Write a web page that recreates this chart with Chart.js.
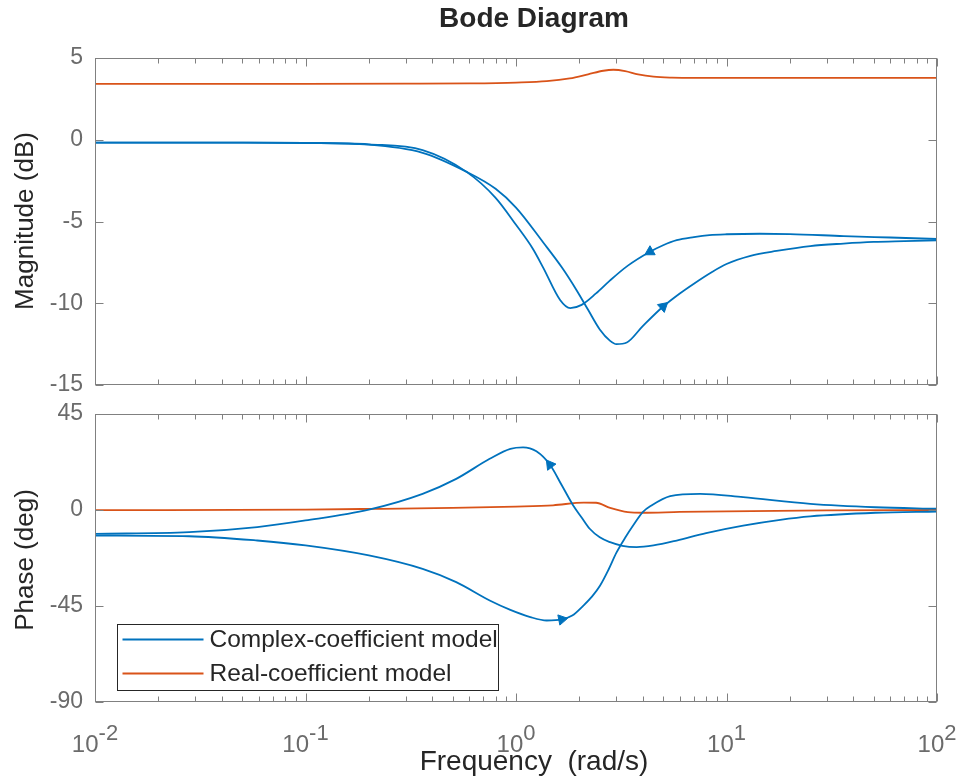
<!DOCTYPE html>
<html>
<head>
<meta charset="utf-8">
<script src="https://cdn.jsdelivr.net/npm/chart.js@4.4.1/dist/chart.umd.min.js"></script>
<style>
  html, body { margin: 0; padding: 0; background: #ffffff; }
  #wrap { position: relative; width: 962px; height: 778px; overflow: hidden; }
  canvas { position: absolute; left: 0; }
  #top { top: 0; }
  #bot { top: 400px; }
</style>
</head>
<body>
<div id="wrap">
  <canvas id="top" width="962" height="400"></canvas>
  <canvas id="bot" width="962" height="378"></canvas>
</div>
<script>
// ---------------- DATA ----------------
// Frequencies in rad/s
const titleText = 'Bode Diagram';
const xAxisTitle = 'Frequency  (rad/s)';
const magAxisTitle = 'Magnitude (dB)';
const phaseAxisTitle = 'Phase (deg)';
const seriesNames = ['Complex-coefficient model', 'Real-coefficient model'];

const xTickExponents = [-2, -1, 0, 1, 2];
const magTicks = [5, 0, -5, -10, -15];
const phaseTicks = [45, 0, -45, -90];

// Real-coefficient model
const realMagFreq = [0.01, 0.1, 0.3, 0.6, 1.0, 1.4, 1.8, 2.2, 2.6, 2.9, 3.3, 3.8, 4.5, 5.5, 7, 10, 30, 100];
const realMag     = [3.42, 3.42, 3.43, 3.45, 3.5, 3.58, 3.75, 4.0, 4.22, 4.28, 4.2, 4.0, 3.86, 3.8, 3.78, 3.78, 3.78, 3.78];
const realPhFreq  = [0.01, 0.1, 0.2, 0.5, 1.0, 1.5, 2.1, 2.4, 2.8, 3.4, 4.0, 6, 10, 30, 100];
const realPh      = [-0.1, 0.2, 0.5, 1.0, 1.6, 2.2, 3.5, 3.4, 1.0, -1.0, -1.3, -0.9, -0.6, -0.2, 0.0];

// Complex-coefficient model, positive-frequency branch
const posMagFreq = [0.01, 0.05, 0.1, 0.2, 0.36, 0.58, 0.8, 1.0, 1.35, 1.65, 1.94, 2.2, 2.5, 2.8, 3.0, 3.36, 4.0, 5.0, 6, 7, 8.5, 10, 13, 17.3, 25, 36, 50, 70, 100];
const posMag     = [-0.17, -0.17, -0.2, -0.3, -0.8, -1.95, -3.0, -4.15, -6.3, -7.8, -9.2, -10.4, -11.6, -12.3, -12.5, -12.4, -11.4, -10.2, -9.4, -8.8, -8.1, -7.6, -7.1, -6.8, -6.5, -6.35, -6.25, -6.2, -6.15];
const posPhFreq  = [0.01, 0.028, 0.059, 0.1, 0.2, 0.36, 0.52, 0.75, 0.94, 1.17, 1.4, 1.65, 1.85, 2.09, 2.3, 2.51, 2.75, 3.0, 3.3, 3.6, 4.0, 4.4, 5.4, 7.5, 12, 25, 51, 100];
const posPh      = [-12, -12.3, -14.3, -16.6, -21.3, -27.6, -33.8, -42.4, -46.8, -50.2, -51.8, -51.3, -49.5, -44.8, -40.5, -35.4, -28, -20, -13, -7.3, -1.0, 2.1, 6.5, 7.6, 6.0, 2.9, 1.3, 0.6];

// Complex-coefficient model, negative-frequency branch (plotted against |w|)
const negMagFreq = [0.01, 0.05, 0.1, 0.2, 0.36, 0.58, 0.8, 1.0, 1.2, 1.35, 1.62, 1.81, 2.05, 2.4, 2.8, 3.4, 4.33, 5.0, 5.8, 7, 8.3, 10, 14.4, 20, 36, 60, 100];
const negMag     = [-0.17, -0.17, -0.19, -0.28, -0.63, -1.95, -3.55, -5.2, -6.65, -7.85, -9.8, -10.3, -10.1, -9.4, -8.6, -7.7, -6.85, -6.45, -6.14, -5.95, -5.83, -5.78, -5.75, -5.77, -5.89, -5.98, -6.07];
const negPhFreq  = [0.01, 0.028, 0.059, 0.1, 0.2, 0.36, 0.52, 0.75, 0.94, 1.08, 1.25, 1.45, 1.65, 1.87, 2.05, 2.24, 2.5, 2.8, 3.2, 3.74, 4.5, 5.8, 8, 12, 18, 25, 51, 100];
const negPh      = [-11.2, -10.4, -8.0, -4.9, 0.2, 7.6, 14.6, 24, 28.7, 29.4, 27.5, 21.2, 11.6, 2.1, -3.5, -8.8, -12.8, -15.1, -16.8, -17.4, -16.6, -14.3, -10.8, -7.3, -4.6, -3.0, -1.3, -0.7];

// Direction arrows (frequency of the arrow marker on each branch)
const posMagArrowAt = 5.0;
const negMagArrowAt = 4.33;
const posPhArrowAt = 1.65;
const negPhArrowAt = 1.45;

// ---------------- STYLE ----------------
const BLUE = '#0072BD';
const ORANGE = '#D95319';
const AXIS = '#808080';
const TICKTXT = '#6b6b6b';
const LABEL = '#262626';
const FONT = '"Liberation Sans", Arial, Helvetica, sans-serif';

function arrowRotation(ctx, idx, dir) {
  if (ctx.type !== 'data' || ctx.dataIndex !== idx) return 0;
  const ch = ctx.chart, xs = ch.scales.x, ys = ch.scales.y, d = ctx.dataset.data;
  const a = d[Math.max(0, idx - 1)], b = d[Math.min(d.length - 1, idx + 1)];
  let dx = xs.getPixelForValue(b.x) - xs.getPixelForValue(a.x);
  let dy = ys.getPixelForValue(b.y) - ys.getPixelForValue(a.y);
  if (dir < 0) { dx = -dx; dy = -dy; }
  return Math.atan2(dx, -dy) * 180 / Math.PI;
}

function series(freq, vals, color, arrowAt, dir) {
  const data = freq.map((f, i) => ({ x: f, y: vals[i] }));
  const idx = arrowAt == null ? -1 : freq.indexOf(arrowAt);
  return {
    data,
    borderColor: color,
    backgroundColor: color,
    pointBackgroundColor: color,
    pointBorderColor: color,
    pointBorderWidth: 1,
    pointStyle: 'triangle',
    pointRadius: (c) => (c.type === 'data' && c.dataIndex === idx ? 6 : 0),
    pointHoverRadius: 0,
    rotation: (c) => arrowRotation(c, idx, dir),
    borderWidth: 1.8,
    fill: false,
    cubicInterpolationMode: 'monotone'
  };
}

function axesPlugin(cfg) {
  return {
    id: 'matlabAxes',
    afterDraw(chart) {
      const { ctx, chartArea: a, scales: { x, y } } = chart;
      ctx.save();
      ctx.strokeStyle = AXIS;
      ctx.lineWidth = 1;
      const L = Math.round(a.left) + 0.5, R = Math.round(a.right) - 0.5;
      const T = Math.round(a.top) + 0.5, B = Math.round(a.bottom) - 0.5;
      ctx.strokeRect(L, T, R - L, B - T);
      ctx.beginPath();
      // x ticks (major + minor), bottom and top, inward
      for (let k = 0; k < xTickExponents.length; k++) {
        const e = xTickExponents[k];
        for (let m = 1; m < 10; m++) {
          if (m > 1 && k === xTickExponents.length - 1) break;
          const v = m * Math.pow(10, e);
          const px = Math.round(x.getPixelForValue(v)) + 0.5;
          const len = m === 1 ? 8 : 5;
          ctx.moveTo(px, B); ctx.lineTo(px, B - len);
          ctx.moveTo(px, T); ctx.lineTo(px, T + len);
        }
      }
      // y ticks left and right, inward
      cfg.yTicks.forEach(v => {
        const py = Math.round(y.getPixelForValue(v)) + 0.5;
        ctx.moveTo(L, py); ctx.lineTo(L + 8, py);
        ctx.moveTo(R, py); ctx.lineTo(R - 8, py);
      });
      ctx.stroke();

      // y tick labels
      ctx.fillStyle = TICKTXT;
      ctx.font = '23px ' + FONT;
      ctx.textAlign = 'right';
      ctx.textBaseline = 'middle';
      cfg.yTicks.forEach(v => {
        ctx.fillText(String(v), a.left - 12, y.getPixelForValue(v));
      });

      // x tick labels (10^e)
      if (cfg.xLabels) {
        ctx.textAlign = 'left';
        ctx.textBaseline = 'alphabetic';
        xTickExponents.forEach(e => {
          const px = x.getPixelForValue(Math.pow(10, e));
          ctx.font = '24px ' + FONT;
          const w1 = ctx.measureText('10').width;
          ctx.font = '22px ' + FONT;
          const es = String(e);
          const w2 = ctx.measureText(es).width;
          const s = px - (w1 + w2) / 2;
          ctx.font = '24px ' + FONT;
          ctx.fillText('10', s, a.bottom + 50);
          ctx.font = '22px ' + FONT;
          ctx.fillText(es, s + w1, a.bottom + 38);
        });
      }

      // axis titles
      ctx.fillStyle = LABEL;
      if (cfg.title) {
        ctx.font = 'bold 28px ' + FONT;
        ctx.textAlign = 'center';
        ctx.textBaseline = 'middle';
        ctx.fillText(cfg.title, 534, 19);
      }
      if (cfg.xTitle) {
        ctx.font = '28px ' + FONT;
        ctx.textAlign = 'center';
        ctx.textBaseline = 'alphabetic';
        ctx.fillText(cfg.xTitle, 534, a.bottom + 68);
      }
      if (cfg.yTitle) {
        ctx.save();
        ctx.font = '26px ' + FONT;
        ctx.textAlign = 'center';
        ctx.textBaseline = 'middle';
        ctx.translate(26, cfg.yTitleY);
        ctx.rotate(-Math.PI / 2);
        ctx.fillText(cfg.yTitle, 0, 0);
        ctx.restore();
      }

      // legend
      if (cfg.legend) {
        const lx = 117.5, ly = a.top + 210.5, lw = 381, lh = 66;
        ctx.fillStyle = '#ffffff';
        ctx.fillRect(lx, ly, lw, lh);
        ctx.strokeStyle = LABEL;
        ctx.lineWidth = 1;
        ctx.strokeRect(lx, ly, lw, lh);
        const rows = [[seriesNames[0], BLUE], [seriesNames[1], ORANGE]];
        rows.forEach((r, i) => {
          const yy = ly + 15 + i * 34;
          ctx.strokeStyle = r[1];
          ctx.lineWidth = 1.8;
          ctx.beginPath();
          ctx.moveTo(lx + 5, yy); ctx.lineTo(lx + 86, yy);
          ctx.stroke();
          ctx.fillStyle = LABEL;
          ctx.font = '24.5px ' + FONT;
          ctx.textAlign = 'left';
          ctx.textBaseline = 'middle';
          ctx.fillText(r[0], lx + 92, yy + 1);
        });
      }
      ctx.restore();
    }
  };
}

function makeChart(id, datasets, ymin, ymax, padding, plugin) {
  return new Chart(document.getElementById(id), {
    type: 'line',
    data: { datasets },
    options: {
      responsive: false,
      animation: false,
      devicePixelRatio: 1,
      parsing: true,
      layout: { padding },
      scales: {
        x: { type: 'logarithmic', min: 0.01, max: 100, display: false },
        y: { type: 'linear', min: ymin, max: ymax, display: false }
      },
      plugins: { legend: { display: false }, tooltip: { enabled: false }, title: { display: false } },
      events: []
    },
    plugins: [plugin]
  });
}

makeChart('top', [
  series(negMagFreq, negMag, BLUE, negMagArrowAt, -1),
  series(posMagFreq, posMag, BLUE, posMagArrowAt, 1),
  series(realMagFreq, realMag, ORANGE, null, 1)
], -15, 5, { left: 95, top: 58, right: 25, bottom: 15 },
  axesPlugin({ yTicks: magTicks, xLabels: false, title: titleText, yTitle: magAxisTitle, yTitleY: 221 }));

makeChart('bot', [
  series(negPhFreq, negPh, BLUE, negPhArrowAt, -1),
  series(posPhFreq, posPh, BLUE, posPhArrowAt, 1),
  series(realPhFreq, realPh, ORANGE, null, 1)
], -90, 45, { left: 95, top: 14, right: 25, bottom: 76 },
  axesPlugin({ yTicks: phaseTicks, xLabels: true, xTitle: xAxisTitle, yTitle: phaseAxisTitle, yTitleY: 160, legend: true }));
</script>
</body>
</html>
